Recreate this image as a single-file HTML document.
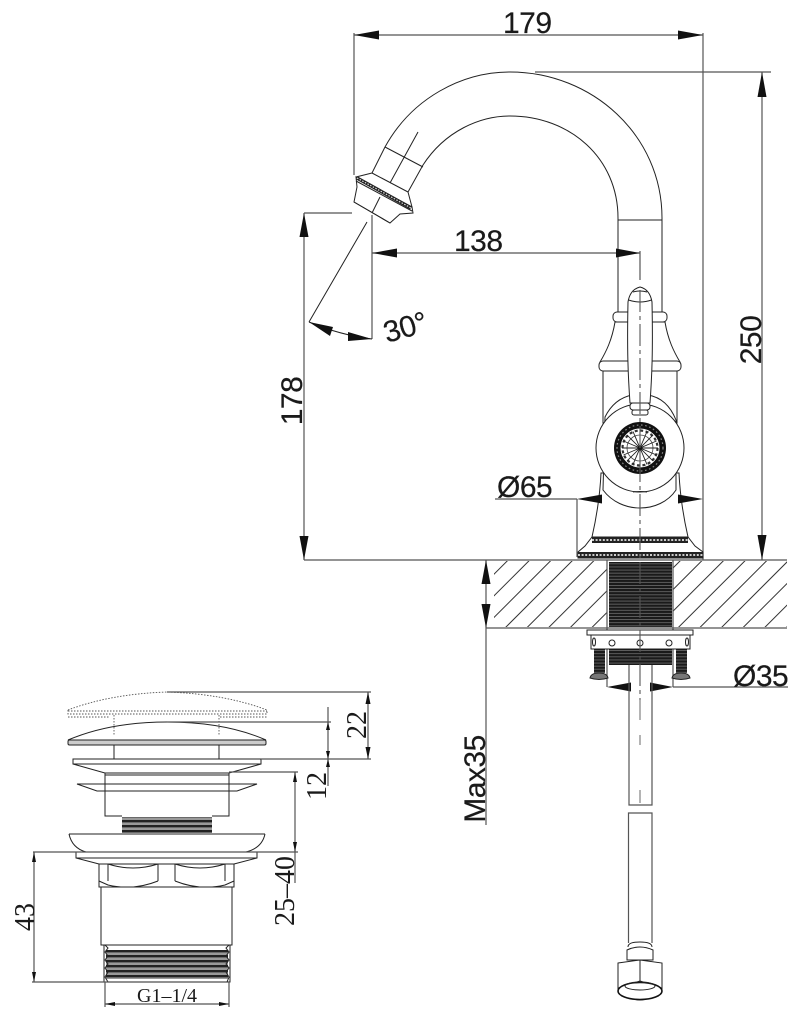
<!DOCTYPE html>
<html><head><meta charset="utf-8"><style>
html,body{margin:0;padding:0;background:#fff}
svg{display:block}
text{fill:#1a1a1a}
.s{font-family:"Liberation Sans",sans-serif;font-size:30px;letter-spacing:-0.5px;stroke:#1a1a1a;stroke-width:0.2}
.r{font-family:"Liberation Serif",serif;font-size:28px}
.d{stroke:#555;stroke-width:1.2;fill:none}
.l{stroke:#222;stroke-width:1;fill:none}
.w{stroke:#222;stroke-width:1;fill:#fff}
.a{fill:#111;stroke:none}
</style></head><body>
<svg width="799" height="1020" viewBox="0 0 799 1020" xmlns="http://www.w3.org/2000/svg">
<defs>
<pattern id="t" width="6" height="3.1" patternUnits="userSpaceOnUse"><rect width="6" height="3.1" fill="#777"/><rect width="6" height="2.4" fill="#1a1a1a"/></pattern>
<pattern id="t2" width="6" height="5" patternUnits="userSpaceOnUse"><rect width="6" height="5" fill="#999"/><rect width="6" height="2.4" fill="#222"/></pattern>
<clipPath id="hc"><rect x="494" y="561" width="293" height="66"/></clipPath>
</defs>

<!-- hatch -->
<g clip-path="url(#hc)" stroke="#333" stroke-width="1" fill="none">
<path d="M440.2 628l68-68M461.8 628l68-68M483.4 628l68-68M505 628l68-68M526.6 628l68-68M548.2 628l68-68M569.8 628l68-68M591.4 628l68-68M613 628l68-68M634.6 628l68-68M656.2 628l68-68M677.8 628l68-68M699.4 628l68-68M721 628l68-68M742.6 628l68-68M764.2 628l68-68M785.8 628l68-68"/>
</g>
<rect x="607" y="561" width="66" height="66" fill="#fff"/>
<!-- table lines -->
<path class="d" d="M470 560H787M486 628H787"/>

<!-- spout -->
<path class="l" d="M372 173L385 147C412 98 462 72 510 72C592 72 662 135 662 218V312"/>
<path class="l" d="M408 192L423 165C445 131 480 116 510 116C570 116 618 158 618 218V312"/>
<path class="l" d="M618 220H662M385 147L423 167M372 173L408 192"/>
<!-- spout head -->
<path class="w" d="M356 177L412 207L413 213L400 214L390 223L354 202L357 187Z"/>
<path d="M357 178L411 208" stroke="#222" stroke-width="3.5" fill="none"/>
<path d="M357 178L411 208" stroke="#ddd" stroke-width="1.2" stroke-dasharray="1.5 1.5" fill="none"/>
<path class="l" d="M372 173L356 177M408 192L412 207M356 181L412 211M354 202L390 223"/>
<path class="l" d="M418 132L390 183M380 197L372 213M367 222L309 322" stroke-width="0.9"/>

<!-- dims top -->
<path class="d" d="M354 35H703M354 33V175M703 33V560M535 72H771M762 72V560"/>
<polygon class="a" points="354,35 379,30.5 379,39.5"/>
<polygon class="a" points="703,35 678,30.5 678,39.5"/>
<polygon class="a" points="762,72 757.5,97 766.5,97"/>
<polygon class="a" points="762,560 757.5,535 766.5,535"/>
<text class="s" x="503" y="33">179</text>

<!-- 138 -->
<path class="d" d="M372 253H640M640 251V280M372 215V339"/>
<polygon class="a" points="372,253 397,248.5 397,257.5"/>
<polygon class="a" points="640,253 616,248.5 616,257.5"/>
<text class="s" x="454" y="251">138</text>

<!-- 178 -->
<path class="d" d="M304 213H352M304 213V560M304 560H470"/>
<polygon class="a" points="304,213 299.5,237 308.5,237"/>
<polygon class="a" points="304,560 299.5,536 308.5,536"/>
<text class="s" transform="translate(302,401) rotate(-90)" text-anchor="middle">178</text>
<text class="s" transform="translate(761,340) rotate(-90)" text-anchor="middle">250</text>

<!-- 30 deg -->
<path class="l" d="M309 322Q340 335 372 339"/>
<polygon class="a" points="309,322 333,327 330,336"/>
<polygon class="a" points="372,339 348,332 348,341"/>
<text class="s" transform="translate(408,337) rotate(-16)" text-anchor="middle">30°</text>

<!-- faucet body -->
<path class="w" d="M615 322C612 340 606 352 600 362H680C674 352 668 340 665 322Z"/>
<rect class="w" x="613" y="312" width="54" height="10" rx="4"/>
<path class="w" d="M603 371V423H677V371Z"/>
<rect class="w" x="599" y="361" width="82" height="10" rx="4"/>
<path class="w" d="M592 537C597 515 600 495 601 473H679C680 495 683 515 688 537Z"/>
<path class="w" d="M605 417C612 403 622 397 632 395H648C660 397 670 405 676 420L676 490C668 502 654 508 640 508C626 508 612 502 603 490Z"/>
<circle class="w" cx="640" cy="448" r="44"/>
<path class="l" d="M633 492Q640 491 647 492"/>

<!-- medallion -->
<circle cx="640" cy="448" r="26" fill="#111"/>
<circle cx="640" cy="448" r="23" fill="none" stroke="#888" stroke-width="1.2" stroke-dasharray="1.6 2.6"/>
<circle cx="640" cy="448" r="20" fill="#fff" stroke="#111" stroke-width="1"/>
<circle cx="640" cy="448" r="17.5" fill="none" stroke="#333" stroke-width="2.2" stroke-dasharray="3 2.5"/>
<circle cx="640" cy="448" r="13" fill="none" stroke="#444" stroke-width="0.8"/>
<path stroke="#222" stroke-width="0.9" fill="none" d="M640 430V466M622 448H658M627.3 435.3L652.7 460.7M627.3 460.7L652.7 435.3M633 431.5L647 464.5M633 464.5L647 431.5M623.5 441L656.5 455M623.5 455L656.5 441"/>
<circle cx="640" cy="448" r="1.8" fill="#111"/>

<!-- handle -->
<path class="w" d="M630 403C628 375 627 350 628 302C629 296 632 289 640 287C648 289 651 296 652 302C653 350 652 375 650 403Z"/>
<path class="l" d="M628.5 300Q640 304 651.5 300M633 292Q640 290 647 292"/>
<rect class="w" x="630" y="403" width="20" height="7" rx="3"/>
<rect class="w" x="632" y="410" width="16" height="5" rx="2"/>

<!-- base beaded -->
<path class="w" d="M592 537H688L695 546L703 552V558H578V552L585 546Z"/>
<path stroke="#222" stroke-width="6" fill="none" d="M592 540H688M578 555H703"/>
<path stroke="#ccc" stroke-width="2" stroke-dasharray="2 1.6" fill="none" d="M592 540H688M578 555H703"/>

<!-- thread -->
<rect x="609" y="562" width="63" height="65" fill="url(#t)"/>
<path class="d" d="M607 560V687M673 560V687"/>

<!-- clamp -->
<rect class="w" x="587" y="630" width="106" height="5"/>
<rect class="w" x="591" y="635" width="99" height="14"/>
<circle class="l" cx="612" cy="643" r="3"/><circle class="l" cx="640" cy="643" r="3"/><circle class="l" cx="669" cy="643" r="3"/>
<ellipse class="l" cx="594" cy="642" rx="1.5" ry="4"/><ellipse class="l" cx="687" cy="642" rx="1.5" ry="4"/>
<rect x="609" y="649" width="63" height="16" fill="url(#t)"/>
<rect x="594" y="649" width="11" height="24" fill="url(#t)"/>
<rect x="676" y="649" width="11" height="24" fill="url(#t)"/>
<path d="M590 678Q591 673 599 673Q607 673 608 678Q599 681 590 678Z" fill="#777" stroke="#222"/>
<path d="M672 678Q673 673 681 673Q689 673 690 678Q681 681 672 678Z" fill="#777" stroke="#222"/>

<!-- center line -->
<path stroke="#555" stroke-width="1.1" fill="none" stroke-dasharray="22 4 4 4" d="M640 290V700"/>
<path stroke="#777" stroke-width="1.1" d="M640 700V720M640 735V745M640 790V803"/>

<!-- Phi65 -->
<path class="d" d="M495 499H577M577 499V557"/>
<polygon class="a" points="577,499 602,494.5 602,503.5"/>
<polygon class="a" points="703,499 678,494.5 678,503.5"/>
<text class="s" x="497" y="497">Ø65</text>

<!-- Phi35 -->
<path class="d" d="M673 687H788"/>
<polygon class="a" points="607,687 631,682.5 631,691.5"/>
<polygon class="a" points="673,687 650,682.5 650,691.5"/>
<text class="s" x="733" y="686">Ø35</text>

<!-- Max35 -->
<path class="d" d="M486 560V825"/>
<polygon class="a" points="486,560 481.5,584 490.5,584"/>
<polygon class="a" points="486,628 481.5,604 490.5,604"/>
<text class="s" transform="translate(485,779) rotate(-90)" text-anchor="middle">Max35</text>

<!-- pipe -->
<path class="d" d="M629 665V805H652V665M628.5 943V813H652V943"/>
<path class="w" d="M628 947Q628 942 640 942Q652 942 652 947"/>
<path class="w" d="M627 960V950Q640 944 653 950V960Z"/>
<path class="w" stroke-width="1.2" d="M618 963L640 960L662 963V990Q650 1000 640 1000Q630 1000 618 990Z"/>
<path class="l" d="M640 960V981M640 981L625 986M640 981L655 986"/>
<ellipse cx="640" cy="991" rx="22" ry="8.5" fill="#fff" stroke="#111" stroke-width="1.6"/>
<ellipse class="l" cx="640" cy="986" rx="15" ry="4"/>

<!-- drain: dotted cap -->
<g fill="none" stroke="#555" stroke-width="0.9" stroke-dasharray="1.5 1.5">
<path d="M68 710Q110 694 167 692Q225 694 267 710"/>
<path d="M68 710V714H267V710M68 711H267M68 717H110M220 717H267"/>
<path d="M114 715V735M219 715V735"/>
</g>
<!-- solid cap -->
<path class="l" d="M68 740Q110 722 167 722Q225 722 266 740"/>
<rect x="68" y="740" width="198" height="5" rx="1.5" fill="#ccc" stroke="#222"/>
<path class="l" d="M114 745V759M219 745V759"/>
<rect class="w" x="73" y="759" width="188" height="5" stroke-width="1.4"/>
<path class="l" d="M73 764L105 773V816H122M261 764L229 773V816H212M105 773H229M105 775H229"/>
<path class="l" d="M105 784H229M77 784H257L237 791H97Z"/>
<rect x="122" y="817" width="90" height="16" fill="url(#t2)"/>
<path class="l" d="M69 834H265M69 834Q72 848 86 852M265 834Q262 848 246 852"/>
<path class="l" d="M76 852V858L99 864M257 852V858L234 864M76 858H257"/>
<rect class="w" x="99" y="864" width="135" height="23"/>
<path class="l" d="M108 864V881M158 864V881M175 864V881M225 864V881M99 881L108 885Q133 891 158 881M175 881Q200 891 225 885L234 881M108 864Q133 872 158 864M175 864Q200 872 225 864"/>
<rect class="w" x="101" y="887" width="131" height="58"/>
<rect class="w" x="104" y="945" width="126" height="37"/>
<rect x="106" y="950" width="122" height="29" fill="url(#t2)"/>
<path class="l" d="M105 945L108 948L105 952L108 956L105 960L108 964L105 968L108 972L105 977L108 982H227L229 977L226 972L229 968L226 964L229 960L226 956L229 952L226 948L229 945"/>

<!-- drain dims -->
<path class="d" d="M167 692H371M261 759H371M368 692V759M167 722H331M328 707V786M229 772H298M295 772V883M33 852H298M34 852V982M32 982H108M105 982V1007M229 982V1007M105 1004H229" stroke-width="1"/>
<g class="a">
<polygon points="368,692 365.5,704 370.5,704"/><polygon points="368,759 365.5,747 370.5,747"/>
<polygon points="328,722 326,730 330,730"/><polygon points="328,759 326,751 330,751"/><polygon points="328,759 326,767 330,767"/>
<polygon points="295,772 293,782 297,782"/><polygon points="295,852 293,842 297,842"/>
<polygon points="34,852 32,862 36,862"/><polygon points="34,982 32,972 36,972"/>
<polygon points="105,1004 115,1002 115,1006"/><polygon points="229,1004 219,1002 219,1006"/>
</g>
<text class="r" transform="translate(366,725) rotate(-90)" text-anchor="middle">22</text>
<text class="r" transform="translate(326,786) rotate(-90)" text-anchor="middle">12</text>
<text class="r" transform="translate(294,891) rotate(-90)" text-anchor="middle">25–40</text>
<text class="r" x="167" y="1002" text-anchor="middle" style="font-size:20px">G1–1/4</text>
<text class="r" transform="translate(34,917) rotate(-90)" text-anchor="middle">43</text>
</svg>
</body></html>
